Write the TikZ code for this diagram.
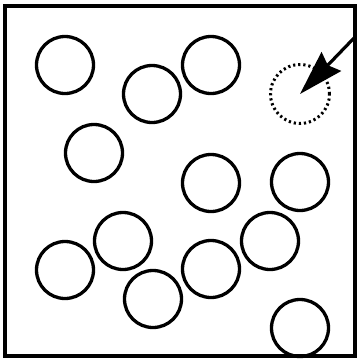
\documentclass[tikz,border=0pt]{standalone}
\usetikzlibrary{arrows.meta}
\begin{document}
\begin{tikzpicture}[x=1pt,y=-1pt,
  ball/.style={circle,draw,line width=3.3pt,minimum size=57pt,inner sep=0pt},
  ghost/.style={circle,draw,line width=3pt,dash pattern=on 2.2pt off 2.9pt,minimum size=59pt,inner sep=0pt},
  frame/.style={draw,line width=3.3pt},
  pointer/.style={line width=3.2pt,-{Stealth[length=45pt,width=27pt,inset=5pt]}}]
\useasboundingbox (0,0) rectangle (358,360);
\draw[frame] (5,6) rectangle (355,356);
\node[ball] (c1) at (65,65) {};
\node[ball] (c2) at (152,94) {};
\node[ball] (c3) at (211,65) {};
\node[ball] (c4) at (94,153) {};
\node[ball] (c5) at (211,183) {};
\node[ball] (c6) at (300,182) {};
\node[ball] (c7) at (123,241) {};
\node[ball] (c8) at (270,241) {};
\node[ball] (c9) at (65,270) {};
\node[ball] (c10) at (211,269) {};
\node[ball] (c11) at (153,299) {};
\node[ball] (c12) at (300,328) {};
\node[ghost] (t) at (300,94) {};
\coordinate (s) at (355,37);
\draw[pointer] (s) -- (t.center);
\end{tikzpicture}
\end{document}
